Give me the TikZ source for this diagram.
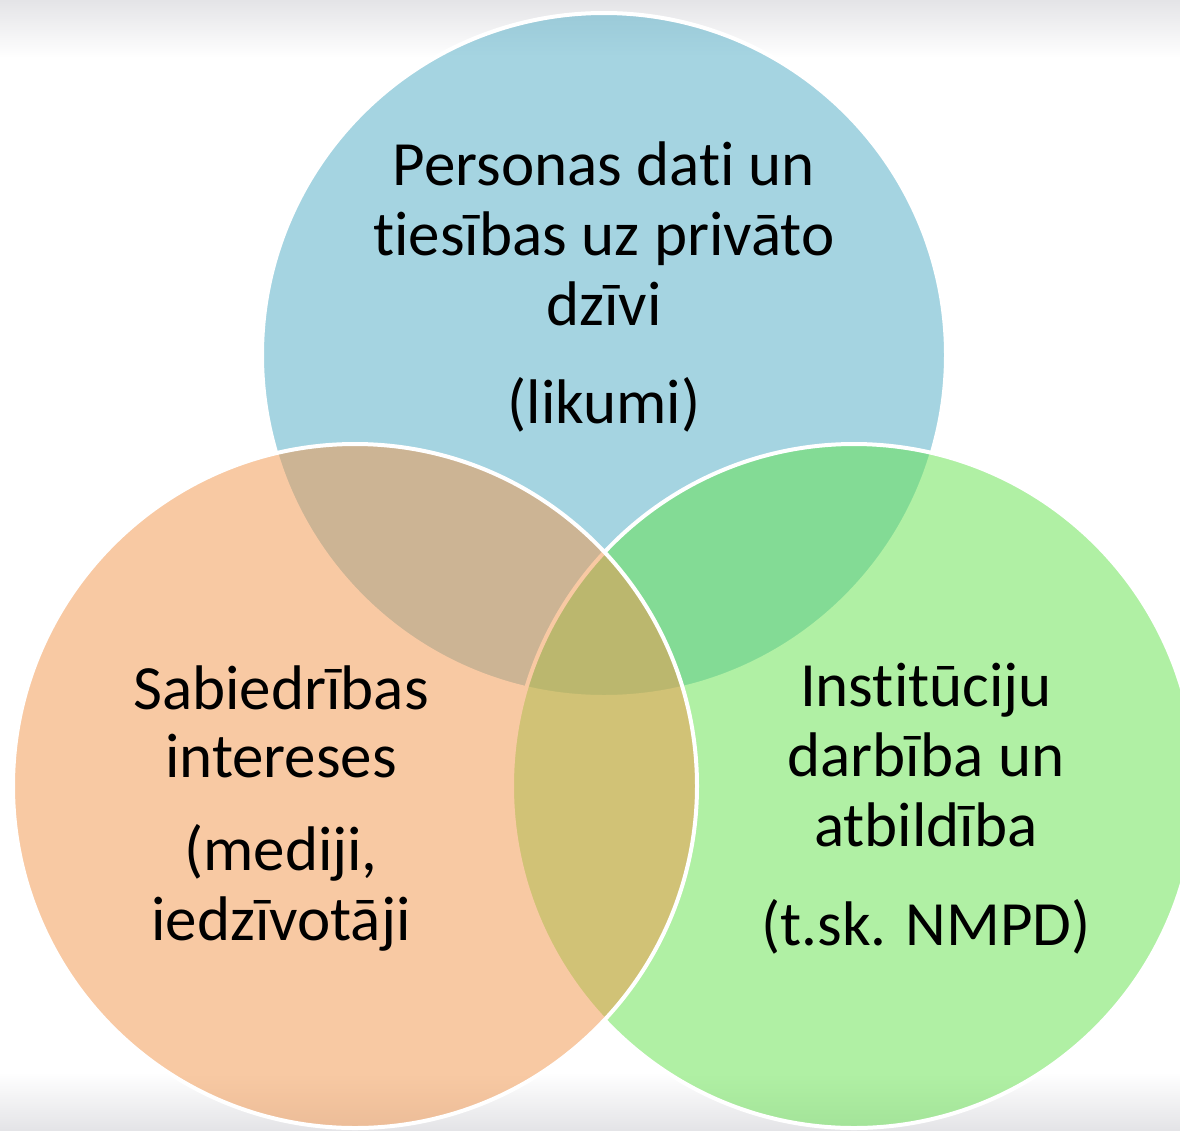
\documentclass[tikz,border=0pt]{standalone}
\usepackage{fontspec}
\setmainfont{Carlito}[Ligatures=NoCommon]
\definecolor{topc}{RGB}{77,171,197}
\definecolor{leftc}{RGB}{243,149,73}
\definecolor{rightc}{RGB}{99,227,75}
\definecolor{bggray}{RGB}{228,228,231}
\tikzset{
  venn/.style={circle, minimum size=684pt, inner sep=0pt, draw=white, line width=4pt, fill opacity=0.5},
  lbl/.style={anchor=base, inner sep=0pt, font=\fontsize{63}{70}\selectfont, text=black, text opacity=1}
}
\begin{document}
\begin{tikzpicture}[x=1pt,y=-1pt]
\useasboundingbox (0,0) rectangle (1180,1130);
\clip (0,0) rectangle (1180,1130);
% background
\fill[white] (0,0) rectangle (1180,1130);
\shade[top color=bggray, bottom color=white] (0,0) rectangle (1180,58);
\shade[top color=white, bottom color=bggray] (0,1072) rectangle (1180,1130);
% circles
\node[venn, fill=topc] (top) at (604,355) {};
\node[venn, fill=rightc] (right) at (854,786) {};
\node[venn, fill=leftc] (left) at (355,786) {};
% top texts
\node[lbl] (t1) at (604,185) {Personas dati un};
\node[lbl] (t2) at (604,255) {tiesības uz privāto};
\node[lbl] (t3) at (604,325) {dzīvi};
\node[lbl] (t4) at (604,423) {(likumi)};
% left texts
\node[lbl] (l1) at (281,709) {Sabiedrības};
\node[lbl] (l2) at (281,777) {intereses};
\node[lbl] (l3) at (281,870) {(mediji,};
\node[lbl] (l4) at (281,940) {iedzīvotāji};
% right texts
\node[lbl] (r1) at (926,706) {Institūciju};
\node[lbl] (r2) at (926,776) {darbība un};
\node[lbl] (r3) at (926,846) {atbildība};
\node[lbl] (r4) at (926,945) {(t.sk. NMPD)};
\end{tikzpicture}
\end{document}
